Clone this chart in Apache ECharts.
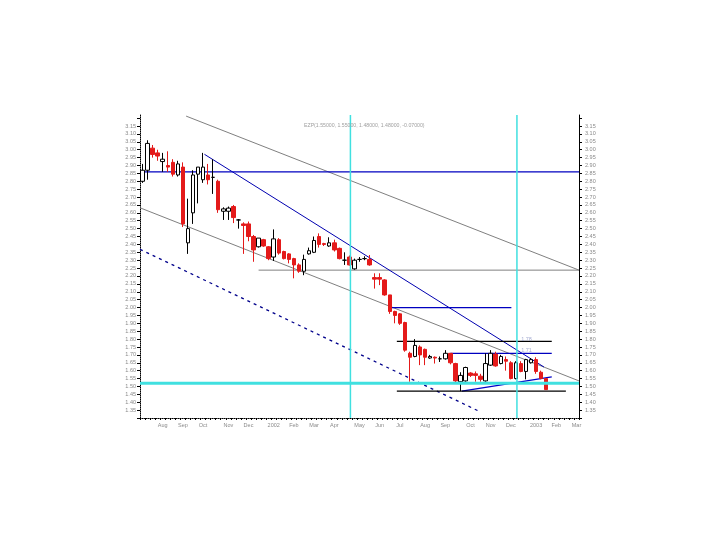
<!DOCTYPE html>
<html>
<head>
<meta charset="utf-8">
<script src="https://cdn.jsdelivr.net/npm/echarts@6/dist/echarts.min.js"></script>
<style>html,body{margin:0;padding:0;background:#fff}#c{width:720px;height:540px}</style>
</head>
<body>
<div id="c"></div>
<script>
// ---- data ----
const firstWeek = '2001-07-09';
const weekCount = 87;
const monthNames = ['Jan','Feb','Mar','Apr','May','Jun','Jul','Aug','Sep','Oct','Nov','Dec'];
const opens  = [2.80,2.87,3.01,2.98,2.925,2.90,2.92,2.84,2.89,2.41,2.60,2.845,2.81,2.84,2.825,2.80,2.61,2.61,2.64,2.555,
                2.53,2.53,2.45,2.385,2.43,2.385,2.32,2.43,2.355,2.34,2.31,2.27,2.23,2.34,2.35,2.45,2.405,2.39,2.41,2.375,
                2.30,2.32,2.245,2.305,2.31,2.305,2.19,2.19,2.175,2.08,1.975,1.96,1.905,1.71,1.69,1.75,1.735,1.68,1.685,1.675,
                1.675,1.71,1.645,1.53,1.535,1.585,1.58,1.565,1.535,1.635,1.705,1.645,1.67,1.65,1.55,1.645,1.595,1.65,1.67,1.59,1.55];
const closes = [2.87,3.04,2.97,2.96,2.94,2.89,2.845,2.91,2.53,2.50,2.84,2.89,2.89,2.81,2.825,2.62,2.625,2.63,2.57,2.555,
                2.52,2.45,2.365,2.44,2.39,2.31,2.435,2.345,2.31,2.305,2.27,2.23,2.305,2.36,2.425,2.40,2.40,2.41,2.365,2.31,
                2.30,2.27,2.30,2.305,2.31,2.27,2.18,2.18,2.08,1.975,1.95,1.90,1.73,1.685,1.76,1.70,1.685,1.69,1.68,1.675,
                1.71,1.65,1.535,1.57,1.62,1.57,1.57,1.545,1.645,1.71,1.63,1.69,1.66,1.55,1.65,1.595,1.67,1.67,1.595,1.55,1.48];
const lows   = [2.79,2.81,2.95,2.93,2.86,2.86,2.83,2.83,2.51,2.34,2.53,2.66,2.79,2.78,2.72,2.60,2.555,2.555,2.535,2.50,
                2.34,2.42,2.29,2.38,2.385,2.30,2.295,2.335,2.305,2.28,2.185,2.22,2.205,2.335,2.345,2.38,2.39,2.385,2.355,2.305,
                2.27,2.265,2.24,2.29,2.30,2.265,2.12,2.142,2.075,1.96,1.90,1.89,1.72,1.53,1.685,1.635,1.635,1.675,1.645,1.655,
                1.67,1.64,1.525,1.47,1.53,1.56,1.53,1.53,1.53,1.63,1.625,1.64,1.60,1.545,1.545,1.59,1.545,1.645,1.58,1.545,1.48];
const highs  = [2.91,3.06,3.03,3.00,2.98,2.99,2.94,2.93,2.92,2.69,2.87,2.89,2.98,2.91,2.94,2.81,2.635,2.64,2.65,2.56,
                2.54,2.545,2.46,2.44,2.435,2.39,2.495,2.44,2.36,2.345,2.315,2.28,2.335,2.38,2.45,2.47,2.41,2.445,2.43,2.38,
                2.35,2.33,2.31,2.32,2.325,2.333,2.217,2.217,2.18,2.08,1.98,1.965,1.91,1.72,1.80,1.76,1.74,1.70,1.69,1.69,
                1.73,1.71,1.65,1.59,1.625,1.59,1.595,1.58,1.71,1.73,1.72,1.70,1.69,1.66,1.66,1.66,1.675,1.68,1.685,1.60,1.55];
// overlay lines: [week position, price]
const channelTop    = [[9.14, 3.213], [87, 2.237]];
const channelMid    = [[0, 2.632], [87, 1.535]];
const channelLowDash= [[0, 2.369], [67.5, 1.338]];
const downTrend     = [[12.77, 2.971], [80.06, 1.623]];
const riseTrend     = [[63.8, 1.47], [81.6, 1.561]];
const blueLevelTop  = [[0, 2.86], [87, 2.86]];
const blueLevel200  = [[49.7, 2.00], [73.6, 2.00]];
const blueLevel171  = [[61.5, 1.71], [81.6, 1.71]];
const grayLevel     = [[23.5, 2.237], [87, 2.237]];
const blackLevelHi  = [[50.9, 1.785], [81.6, 1.785]];
const blackLevelLo  = [[50.9, 1.47], [84.4, 1.47]];
const cyanLevel     = [[0, 1.52], [87, 1.52]];
const cyanV1        = [[41.7, 1.30], [41.7, 3.22]];
const cyanV2        = [[74.7, 1.30], [74.7, 3.22]];
const levelTags     = [[76.6, 1.80, '1.78'], [76.6, 1.725, '1.71']];
const titleText = 'EZP(1.55000, 1.55000, 1.48000, 1.48000, -0.07000)';

// ---- build ----
const cats = [], tickLabels = [];
const d0 = new Date(firstWeek + 'T00:00:00Z');
let prevMonth = d0.getUTCMonth();
for (let k = 0; k < weekCount; k++) {
  const d = new Date(d0.getTime() + k * 7 * 86400000);
  cats.push(d.toISOString().slice(0, 10));
  const m = d.getUTCMonth();
  if (k > 0 && m !== prevMonth) {
    tickLabels.push(m === 0 ? String(d.getUTCFullYear()) : monthNames[m]);
  } else tickLabels.push('');
  prevMonth = m;
}
const candles = opens.map((o, i) => [o, closes[i], lows[i], highs[i]]);

function seg(data, color, width, type, z) {
  return { type: 'line', xAxisIndex: 1, yAxisIndex: 0, data: data, showSymbol: false, silent: true,
    lineStyle: { color: color, width: width, type: type || 'solid' }, z: z || 3, animation: false };
}

const lblStyle = { fontSize: 5.5, color: '#8a8a8a', fontFamily: 'Liberation Sans' };
const chart = echarts.init(document.getElementById('c'), null, { renderer: 'canvas' });
chart.setOption({
  backgroundColor: '#fff',
  animation: false,
  title: { text: titleText, left: 299, top: 118, textStyle: { fontSize: 5.2, color: '#a0a0a0', fontWeight: 'normal', fontFamily: 'Liberation Sans' } },
  grid: { left: 140, right: 141, top: 115, bottom: 122 },
  xAxis: [
    { type: 'category', data: cats, boundaryGap: true,
      axisLine: { lineStyle: { color: '#000', type: 'dotted' } },
      axisTick: { show: true, interval: 0, length: 2, lineStyle: { color: '#000' } },
      axisLabel: Object.assign({ interval: (i) => tickLabels[i] !== '', formatter: (v, i) => tickLabels[i], margin: 4 }, lblStyle),
      splitLine: { show: false } },
    { type: 'value', min: 0, max: weekCount, show: false }
  ],
  yAxis: [
    { type: 'value', min: 1.30, max: 3.22, interval: 0.05, position: 'left',
      axisLine: { show: true, lineStyle: { color: '#000', type: 'dotted' } },
      axisTick: { show: true, length: 3, lineStyle: { color: '#000' } },
      axisLabel: Object.assign({ margin: 4, showMaxLabel: false, formatter: (v) => (v < 1.33 || v > 3.17) ? '' : v.toFixed(2) }, lblStyle),
      splitLine: { show: false } },
    { type: 'value', min: 1.30, max: 3.22, interval: 0.05, position: 'right',
      axisLine: { show: true, lineStyle: { color: '#000' } },
      axisTick: { show: true, length: 3, lineStyle: { color: '#000' } },
      axisLabel: Object.assign({ margin: 6, showMaxLabel: false, formatter: (v) => (v < 1.33 || v > 3.17) ? '' : v.toFixed(2) }, lblStyle),
      splitLine: { show: false } }
  ],
  series: [
    seg(channelTop, '#808080', 1),
    seg(channelMid, '#808080', 1),
    seg(grayLevel, '#808080', 1),
    seg(channelLowDash, '#00008b', 1.3, [3, 4]),
    seg(downTrend, '#0000b0', 1),
    seg(riseTrend, '#0000c8', 1.2),
    seg(blueLevelTop, '#0000c0', 1.3),
    seg(blueLevel200, '#0000c0', 1.3),
    seg(blueLevel171, '#0000c0', 1.2),
    seg(blackLevelHi, '#000000', 1.2),
    seg(blackLevelLo, '#000000', 1.2),
    { type: 'candlestick', xAxisIndex: 0, yAxisIndex: 0, data: candles, barWidth: 4, z: 4, animation: false,
      itemStyle: { color: '#ffffff', color0: '#e41a1a', borderColor: '#000000', borderColor0: '#e41a1a', borderColorDoji: '#000000', borderWidth: 1 } },
    seg(cyanLevel, '#40e0e0', 3, 'solid', 5),
    seg(cyanV1, '#40e0e0', 1.5, 'solid', 5),
    seg(cyanV2, '#40e0e0', 1.5, 'solid', 5),
    { type: 'scatter', xAxisIndex: 1, yAxisIndex: 0, symbolSize: 0, silent: true, z: 6,
      data: levelTags.map(t => ({ value: [t[0], t[1]], label: { show: true, formatter: t[2], position: 'inside', fontSize: 5.5, color: '#9098c8', fontFamily: 'Liberation Sans' } })) }
  ]
});
</script>
</body>
</html>
